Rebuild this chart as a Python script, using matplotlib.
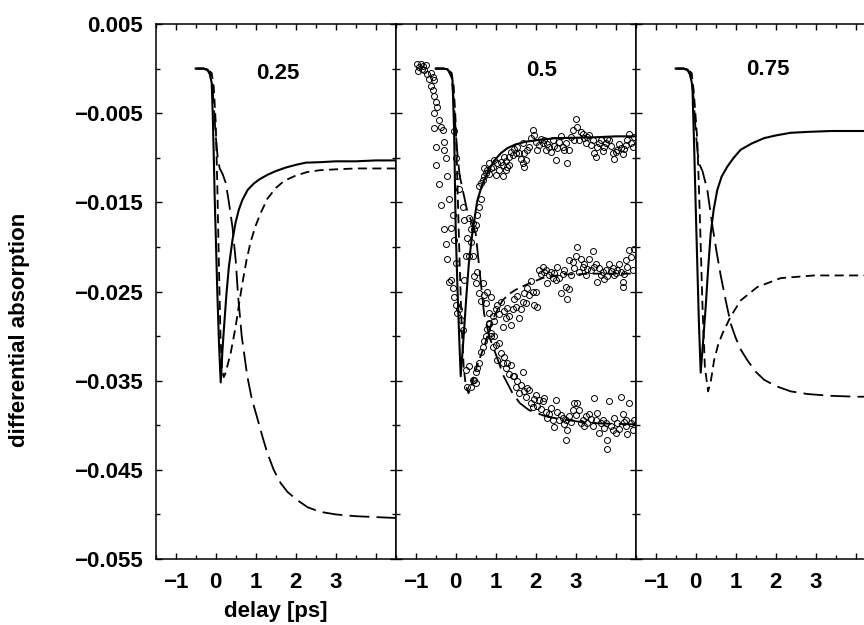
import matplotlib
matplotlib.use("Agg")
import matplotlib.pyplot as plt
from matplotlib.ticker import MultipleLocator

plt.rcParams['font.family'] = ['Liberation Sans', 'DejaVu Sans']
plt.rcParams['font.weight'] = 'bold'

# ---- model curves, delay in ps / differential absorption ----
# panel 0.25
t_sol_25 = [-0.5, -0.3, -0.2, -0.15, -0.1, -0.075, -0.05, -0.025, 0.0, 0.04, 0.08, 0.125,
            0.17, 0.21, 0.27, 0.33, 0.42, 0.5, 0.58, 0.67, 0.8, 0.95, 1.1, 1.3, 1.5, 1.75,
            2.0, 2.25, 2.6, 3.0, 3.5, 4.0, 4.5]
a_sol_25 = [0.0, 0.0, -0.0002, -0.0006, -0.0016, -0.005, -0.0095, -0.0145, -0.0185, -0.025,
            -0.0305, -0.0352, -0.0315, -0.0289, -0.0252, -0.0222, -0.0192, -0.0172, -0.0158,
            -0.0147, -0.0136, -0.0129, -0.0124, -0.0119, -0.0115, -0.0111, -0.0108, -0.01055,
            -0.0105, -0.0104, -0.0104, -0.0103, -0.0103]
t_sd_25 = [-0.5, -0.3, -0.2, -0.1, -0.05, 0.0, 0.04, 0.08, 0.12, 0.16, 0.2, 0.25, 0.3, 0.375,
           0.5, 0.58, 0.67, 0.77, 0.875, 1.0, 1.125, 1.29, 1.5, 1.71, 2.0, 2.29, 2.6, 3.0,
           3.5, 4.0, 4.5]
a_sd_25 = [0.0, 0.0, -0.0001, -0.0005, -0.002, -0.006, -0.013, -0.022, -0.030, -0.0338,
           -0.0346, -0.0341, -0.0332, -0.0319, -0.0289, -0.0265, -0.024, -0.0215, -0.0194,
           -0.0176, -0.0162, -0.0146, -0.0134, -0.0126, -0.012, -0.0116, -0.0114, -0.0113,
           -0.0112, -0.0112, -0.0112]
t_ld_25 = [-0.5, -0.3, -0.2, -0.1, -0.05, 0.0, 0.05, 0.1, 0.17, 0.25, 0.33, 0.42, 0.5, 0.56,
           0.65, 0.79, 0.9, 1.04, 1.17, 1.29, 1.45, 1.625, 1.8, 2.04, 2.3, 2.6, 3.0, 3.5,
           4.0, 4.5]
a_ld_25 = [0.0, 0.0, -0.0001, -0.001, -0.004, -0.0075, -0.01, -0.0112, -0.0118, -0.0128,
           -0.015, -0.0178, -0.0215, -0.0255, -0.03, -0.0345, -0.037, -0.0392, -0.0413,
           -0.0431, -0.045, -0.0465, -0.0475, -0.0484, -0.0492, -0.0497, -0.05, -0.0502,
           -0.0503, -0.0504]

# panel 0.5
t_sol_50 = [-0.5, -0.3, -0.2, -0.15, -0.1, -0.08, -0.04, 0.0, 0.04, 0.08, 0.125, 0.17, 0.21,
            0.27, 0.33, 0.42, 0.54, 0.65, 0.79, 0.95, 1.125, 1.3, 1.5, 1.75, 2.08, 2.5,
            3.08, 3.5, 4.0, 4.5]
a_sol_50 = [0.0, 0.0, -0.0001, -0.0004, -0.001, -0.0013, -0.0069, -0.0181, -0.024, -0.0293,
            -0.0345, -0.0318, -0.0293, -0.0253, -0.0218, -0.0183, -0.0148, -0.0132, -0.0117,
            -0.0104, -0.0095, -0.0089, -0.0085, -0.0082, -0.008, -0.0078, -0.00775, -0.0077,
            -0.0076, -0.0076]
t_sd_50 = [-0.5, -0.3, -0.2, -0.1, -0.05, 0.0, 0.05, 0.1, 0.15, 0.2, 0.25, 0.32, 0.4, 0.5,
           0.6, 0.71, 0.82, 0.92, 1.05, 1.17, 1.33, 1.5, 1.83, 2.17, 2.67, 3.5, 4.5]
a_sd_50 = [0.0, 0.0, -0.0001, -0.0005, -0.002, -0.006, -0.014, -0.022, -0.029, -0.0335,
           -0.0355, -0.0364, -0.0355, -0.0338, -0.0325, -0.0312, -0.0296, -0.0282, -0.027,
           -0.026, -0.0253, -0.0248, -0.0241, -0.0235, -0.0231, -0.023, -0.023]
t_ld_50 = [-0.5, -0.3, -0.2, -0.1, -0.05, 0.0, 0.05, 0.1, 0.17, 0.29, 0.4, 0.5, 0.6, 0.71,
           0.85, 1.0, 1.2, 1.42, 1.6, 1.83, 2.25, 2.6, 3.08, 3.6, 4.5]
a_ld_50 = [0.0, 0.0, -0.0001, -0.001, -0.0035, -0.007, -0.01, -0.012, -0.0135, -0.016,
           -0.0172, -0.0185, -0.0228, -0.0275, -0.0302, -0.032, -0.0345, -0.0364, -0.0375,
           -0.0383, -0.039, -0.0393, -0.0396, -0.0398, -0.0399]

# panel 0.75
t_sol_75 = [-0.5, -0.3, -0.2, -0.15, -0.1, -0.08, -0.04, 0.0, 0.04, 0.08, 0.125, 0.17, 0.25,
            0.31, 0.375, 0.45, 0.54, 0.65, 0.79, 0.95, 1.125, 1.4, 1.71, 2.0, 2.375, 2.8,
            3.375, 4.0, 4.5]
a_sol_75 = [0.0, 0.0, -0.0002, -0.0006, -0.0015, -0.0024, -0.0085, -0.0155, -0.022, -0.0285,
            -0.0341, -0.0315, -0.0267, -0.0225, -0.0185, -0.0158, -0.0136, -0.0121, -0.011,
            -0.01, -0.0091, -0.0084, -0.0078, -0.0075, -0.0072, -0.0071, -0.007, -0.007,
            -0.007]
t_sd_75 = [-0.5, -0.3, -0.2, -0.1, -0.05, 0.0, 0.04, 0.1, 0.17, 0.23, 0.31, 0.38, 0.46, 0.56,
           0.67, 0.875, 1.125, 1.54, 2.125, 2.96, 4.5]
a_sd_75 = [0.0, 0.0, -0.0001, -0.0005, -0.0025, -0.0055, -0.008, -0.016, -0.0267, -0.0335,
           -0.0362, -0.035, -0.0327, -0.031, -0.0297, -0.0278, -0.026, -0.0245, -0.0235,
           -0.0232, -0.0232]
t_ld_75 = [-0.5, -0.3, -0.2, -0.1, -0.05, 0.0, 0.05, 0.1, 0.17, 0.29, 0.42, 0.52, 0.625,
           0.75, 0.875, 1.0, 1.125, 1.29, 1.5, 1.71, 2.0, 2.375, 2.8, 3.375, 4.0, 4.5]
a_ld_75 = [0.0, 0.0, -0.0001, -0.001, -0.0035, -0.007, -0.0095, -0.0108, -0.0115, -0.0136,
           -0.0177, -0.0205, -0.0232, -0.026, -0.0286, -0.0302, -0.0315, -0.0327, -0.034,
           -0.0349, -0.0356, -0.0362, -0.0365, -0.0367, -0.0368, -0.0368]

# ---- measured points (0.5 panel) ----
obs_t_a = [-0.96, -0.94, -0.92, -0.88, -0.85, -0.83, -0.79, -0.75, -0.71, -0.67,
           -0.63, -0.63, -0.58, -0.58, -0.54, -0.54, -0.54, -0.54, -0.50, -0.50,
           -0.50, -0.46, -0.42, -0.42, -0.38, -0.38, -0.33, -0.29, -0.29, -0.29,
           -0.25, -0.25, -0.21, -0.21, -0.17, -0.17, -0.13, -0.13, -0.08, -0.08,
           -0.04, -0.04, -0.04, 0.00, 0.00, 0.00, 0.04, 0.04, 0.08, 0.08,
           0.13, 0.17, 0.17, 0.21, 0.21, 0.25, 0.29, 0.33, 0.38, 0.42,
           0.46, 0.50, 0.54, 0.58, 0.58, 0.63, 0.63, 0.67, 0.71, 0.71,
           0.75, 0.79, 0.83, 0.83, 0.88, 0.92, 0.96, 1.00, 1.04, 1.08,
           1.13, 1.17, 1.17, 1.21, 1.25, 1.25, 1.29, 1.33, 1.33, 1.38,
           1.42, 1.46, 1.50, 1.54, 1.58, 1.62, 1.67, 1.67, 1.71, 1.71,
           1.75, 1.79, 1.83, 1.88, 1.92, 1.96, 2.00, 2.04, 2.08, 2.12,
           2.17, 2.21, 2.25, 2.29, 2.33, 2.38, 2.42, 2.46, 2.50, 2.54,
           2.58, 2.62, 2.67, 2.71, 2.75, 2.79, 2.83, 2.88, 2.92, 2.96,
           3.00, 3.04, 3.08, 3.12, 3.17, 3.21, 3.25, 3.29, 3.33, 3.38,
           3.42, 3.46, 3.50, 3.54, 3.58, 3.62, 3.67, 3.71, 3.75, 3.79,
           3.83, 3.88, 3.92, 3.96, 4.00, 4.04, 4.08, 4.12, 4.17, 4.21,
           4.25, 4.29, 4.33, 4.38, 4.42, 4.46]
obs_a_a = [0.0005, -0.0003, 0.0002, 0.0005, 0.0000, 0.0003, -0.0002, 0.0004, -0.0006, -0.0012,
           -0.0005, -0.0020, -0.0024, -0.0010, -0.0013, -0.0031, -0.0050, -0.0067, -0.0037, -0.0088,
           -0.0108, -0.0043, -0.0058, -0.0129, -0.0065, -0.0153, -0.0069, -0.0082, -0.0091, -0.0180,
           -0.0100, -0.0197, -0.0121, -0.0214, -0.0146, -0.0239, -0.0179, -0.0237, -0.0164, -0.0246,
           -0.0192, -0.0256, -0.0070, -0.0218, -0.0265, -0.0100, -0.0274, -0.0120, -0.0270, -0.0135,
           -0.0282, -0.0293, -0.0155, -0.0170, -0.0237, -0.0210, -0.0190, -0.0168, -0.0180, -0.0173,
           -0.0180, -0.0175, -0.0164, -0.0155, -0.0132, -0.0146, -0.0128, -0.0125, -0.0121, -0.0112,
           -0.0117, -0.0114, -0.0118, -0.0106, -0.0112, -0.0110, -0.0103, -0.0119, -0.0106, -0.0114,
           -0.0105, -0.0108, -0.0121, -0.0099, -0.0104, -0.0114, -0.0110, -0.0099, -0.0108, -0.0094,
           -0.0097, -0.0090, -0.0095, -0.0088, -0.0095, -0.0101, -0.0084, -0.0106, -0.0095, -0.0110,
           -0.0102, -0.0091, -0.0088, -0.0078, -0.0069, -0.0074, -0.0082, -0.0091, -0.0086, -0.0079,
           -0.0084, -0.0080, -0.0091, -0.0085, -0.0088, -0.0094, -0.0080, -0.0087, -0.0102, -0.0089,
           -0.0082, -0.0076, -0.0088, -0.0091, -0.0083, -0.0106, -0.0091, -0.0077, -0.0069, -0.0080,
           -0.0056, -0.0065, -0.0080, -0.0071, -0.0073, -0.0078, -0.0083, -0.0077, -0.0074, -0.0086,
           -0.0080, -0.0095, -0.0099, -0.0088, -0.0084, -0.0080, -0.0092, -0.0088, -0.0084, -0.0079,
           -0.0080, -0.0087, -0.0095, -0.0101, -0.0093, -0.0091, -0.0085, -0.0089, -0.0096, -0.0090,
           -0.0086, -0.0080, -0.0073, -0.0083, -0.0088, -0.0077]

obs_t_b = [0.25, 0.29, 0.33, 0.38, 0.42, 0.46, 0.50, 0.50, 0.54, 0.58,
           0.63, 0.67, 0.71, 0.75, 0.79, 0.83, 0.88, 0.92, 0.96, 1.00,
           1.04, 1.08, 1.13, 1.17, 1.21, 1.25, 1.29, 1.33, 1.38, 1.42,
           1.46, 1.50, 1.54, 1.58, 1.62, 1.67, 1.71, 1.75, 1.79, 1.83,
           1.88, 1.92, 1.96, 2.00, 2.04, 2.08, 2.12, 2.17, 2.21, 2.25,
           2.29, 2.33, 2.38, 2.42, 2.46, 2.50, 2.54, 2.58, 2.62, 2.67,
           2.71, 2.75, 2.79, 2.83, 2.83, 2.88, 2.92, 2.96, 3.00, 3.04,
           3.08, 3.12, 3.17, 3.21, 3.25, 3.29, 3.33, 3.38, 3.42, 3.46,
           3.50, 3.54, 3.58, 3.62, 3.67, 3.71, 3.75, 3.79, 3.83, 3.88,
           3.92, 3.96, 4.00, 4.04, 4.08, 4.12, 4.17, 4.17, 4.21, 4.25,
           4.29, 4.33, 4.38, 4.42, 4.46]
obs_a_b = [-0.0338, -0.0357, -0.0334, -0.0357, -0.0349, -0.0349, -0.0353, -0.0340, -0.0336, -0.0330,
           -0.0318, -0.0312, -0.0305, -0.0300, -0.0292, -0.0286, -0.0300, -0.0278, -0.0283, -0.0270,
           -0.0265, -0.0275, -0.0262, -0.0290, -0.0272, -0.0280, -0.0268, -0.0278, -0.0288, -0.0270,
           -0.0258, -0.0267, -0.0255, -0.0280, -0.0270, -0.0262, -0.0252, -0.0263, -0.0246, -0.0254,
           -0.0238, -0.0250, -0.0265, -0.0250, -0.0267, -0.0226, -0.0230, -0.0222, -0.0228, -0.0226,
           -0.0240, -0.0232, -0.0228, -0.0235, -0.0229, -0.0237, -0.0222, -0.0235, -0.0252, -0.0230,
           -0.0226, -0.0245, -0.0258, -0.0247, -0.0215, -0.0232, -0.0217, -0.0224, -0.0210, -0.0200,
           -0.0228, -0.0213, -0.0223, -0.0219, -0.0232, -0.0225, -0.0213, -0.0226, -0.0205, -0.0222,
           -0.0219, -0.0239, -0.0224, -0.0231, -0.0228, -0.0236, -0.0226, -0.0233, -0.0219, -0.0227,
           -0.0224, -0.0232, -0.0229, -0.0226, -0.0219, -0.0228, -0.0239, -0.0245, -0.0230, -0.0215,
           -0.0222, -0.0204, -0.0211, -0.0226, -0.0202]

obs_t_c = [0.33, 0.38, 0.42, 0.46, 0.50, 0.54, 0.58, 0.63, 0.67, 0.71,
           0.75, 0.79, 0.83, 0.83, 0.88, 0.88, 0.92, 0.96, 1.00, 1.04,
           1.08, 1.13, 1.17, 1.21, 1.25, 1.29, 1.33, 1.38, 1.42, 1.46,
           1.50, 1.54, 1.58, 1.62, 1.67, 1.71, 1.75, 1.79, 1.83, 1.88,
           1.92, 1.96, 2.00, 2.04, 2.08, 2.12, 2.17, 2.21, 2.25, 2.29,
           2.33, 2.38, 2.42, 2.46, 2.50, 2.54, 2.58, 2.62, 2.67, 2.71,
           2.75, 2.75, 2.79, 2.83, 2.88, 2.92, 2.96, 3.00, 3.04, 3.08,
           3.12, 3.17, 3.21, 3.25, 3.29, 3.33, 3.38, 3.42, 3.46, 3.50,
           3.54, 3.58, 3.62, 3.67, 3.71, 3.75, 3.79, 3.79, 3.83, 3.88,
           3.92, 3.96, 4.00, 4.04, 4.08, 4.12, 4.17, 4.21, 4.25, 4.25,
           4.29, 4.33, 4.38, 4.42, 4.46]
obs_a_c = [-0.0210, -0.0195, -0.0210, -0.0233, -0.0241, -0.0228, -0.0252, -0.0261, -0.0240, -0.0254,
           -0.0263, -0.0250, -0.0274, -0.0285, -0.0256, -0.0297, -0.0312, -0.0300, -0.0310, -0.0327,
           -0.0308, -0.0319, -0.0330, -0.0323, -0.0336, -0.0330, -0.0342, -0.0332, -0.0345, -0.0345,
           -0.0357, -0.0350, -0.0364, -0.0355, -0.0340, -0.0362, -0.0368, -0.0358, -0.0360, -0.0375,
           -0.0380, -0.0371, -0.0366, -0.0378, -0.0372, -0.0382, -0.0373, -0.0370, -0.0385, -0.0392,
           -0.0387, -0.0381, -0.0394, -0.0402, -0.0372, -0.0385, -0.0394, -0.0388, -0.0392, -0.0399,
           -0.0394, -0.0416, -0.0405, -0.0390, -0.0396, -0.0383, -0.0375, -0.0389, -0.0375, -0.0383,
           -0.0398, -0.0394, -0.0401, -0.0390, -0.0397, -0.0387, -0.0393, -0.0401, -0.0370, -0.0394,
           -0.0386, -0.0409, -0.0397, -0.0394, -0.0403, -0.0398, -0.0416, -0.0427, -0.0373, -0.0401,
           -0.0405, -0.0392, -0.0409, -0.0398, -0.0404, -0.0368, -0.0387, -0.0396, -0.0394, -0.0401,
           -0.0410, -0.0375, -0.0398, -0.0405, -0.0394]

panel_titles = ['0.25', '0.5', '0.75']
title_pos = [(1.55, -0.0005), (2.15, -0.0002), (1.8, -0.0001)]
x_ticks = [-1, 0, 1, 2, 3, 4]
x_ticklabels = ['\u22121', '0', '1', '2', '3', '']
y_ticks = [0.005, -0.005, -0.015, -0.025, -0.035, -0.045, -0.055]
y_minor = [0.0, -0.01, -0.02, -0.03, -0.04, -0.05]

curves = [
    ((t_sol_25, a_sol_25), (t_sd_25, a_sd_25), (t_ld_25, a_ld_25)),
    ((t_sol_50, a_sol_50), (t_sd_50, a_sd_50), (t_ld_50, a_ld_50)),
    ((t_sol_75, a_sol_75), (t_sd_75, a_sd_75), (t_ld_75, a_ld_75)),
]

W, H = 864, 625
fig = plt.figure(figsize=(W / 100, H / 100), dpi=100)
ax_left, ax_w = 155.7 / W, 240 / W
ax_bot, ax_h = 66 / H, 535 / H

axes = []
for i in range(3):
    ax = fig.add_axes([ax_left + i * ax_w, ax_bot, ax_w, ax_h])
    axes.append(ax)
    (ts, ys), (td, yd), (tl, yl) = curves[i]
    ax.plot(ts, ys, color='black', lw=1.5)
    ax.plot(td, yd, color='black', lw=1.3, dashes=(5, 3))
    ax.plot(tl, yl, color='black', lw=1.3, dashes=(11, 4))

    ax.set_xlim(-1.5, 4.5)
    ax.set_ylim(-0.055, 0.005)
    ax.set_xticks(x_ticks)
    ax.set_xticklabels(x_ticklabels)
    ax.xaxis.set_minor_locator(MultipleLocator(0.5))
    ax.set_yticks(y_ticks)
    ax.set_yticks(y_minor, minor=True)
    ax.set_yticklabels(['0.005'] + ['\u2212' + f'{abs(v):.3f}' for v in y_ticks[1:]])
    ax.tick_params(which='both', direction='in', top=True, right=True, width=1.0,
                   labelsize=16, pad=9)
    ax.tick_params(which='major', length=4.5)
    ax.tick_params(which='minor', length=3)
    if i > 0:
        ax.tick_params(labelleft=False)
    for sp in ax.spines.values():
        sp.set_linewidth(1.1)
    tx, ty = title_pos[i]
    ax.text(tx, ty, panel_titles[i], ha='center', va='center', fontsize=16,
            fontweight='bold')

# measured points sit on the middle panel
for t, a in ((obs_t_a, obs_a_a), (obs_t_b, obs_a_b), (obs_t_c, obs_a_c)):
    axes[1].plot(t, a, linestyle='none', marker='o', ms=4.3, mfc='none',
                 mec='black', mew=0.7)

axes[0].set_xlabel('delay [ps]', fontsize=16, fontweight='bold', labelpad=6)
fig.text(20 / W, 1 - 330 / H, 'differential absorption', rotation=90,
         ha='center', va='center', fontsize=16, fontweight='bold')

fig.savefig('out.png', dpi=100)
